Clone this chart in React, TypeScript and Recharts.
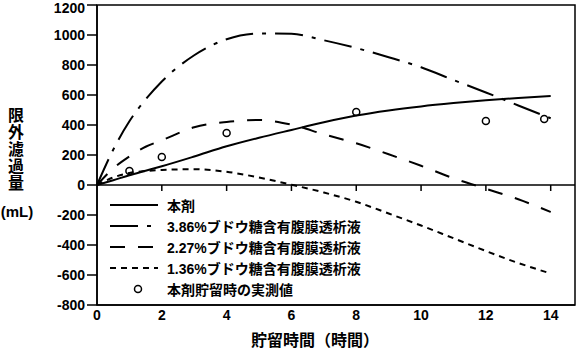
import React from "react";
import {
  ComposedChart,
  Line,
  Scatter,
  XAxis,
  YAxis,
  ReferenceLine,
  ReferenceArea,
  Legend
} from "recharts";

const FONT = "'Liberation Sans', Arial, 'Noto Sans CJK JP', sans-serif";

// dwell time (hours) for the simulated curves
const hours = [0, 0.5, 1, 1.5, 2, 3, 4, 5, 6, 7, 8, 9, 10, 11, 12, 13, 14];
const productValues = [0, 32, 65, 95, 125, 190, 258, 315, 367, 418, 463, 497, 524, 546, 565, 580, 593];
const glucose386 = [0, 235, 425, 570, 690, 865, 972, 1010, 1008, 965, 913, 852, 785, 700, 617, 530, 445];
const glucose227 = [0, 110, 190, 255, 298, 385, 420, 433, 402, 338, 278, 205, 128, 45, -25, -95, -180];
const glucose136 = [0, 50, 80, 93, 100, 105, 88, 50, 2, -50, -112, -190, -270, -355, -440, -520, -590];

const measuredHours = [1, 2, 4, 8, 12, 13.8];
const measuredValues = [93, 187, 347, 487, 427, 440];

const xTicks = [0, 2, 4, 6, 8, 10, 12, 14];
const yTicks = [-800, -600, -400, -200, 0, 200, 400, 600, 800, 1000, 1200];

const series = [
  { key: "product", name: "本剤", dash: undefined },
  { key: "g386", name: "3.86%ブドウ糖含有腹膜透析液", dash: "28 9 4 9" },
  { key: "g227", name: "2.27%ブドウ糖含有腹膜透析液", dash: "15 13" },
  { key: "g136", name: "1.36%ブドウ糖含有腹膜透析液", dash: "6 5" }
];
const measuredName = "本剤貯留時の実測値";
const yLabelChars = ["限", "外", "濾", "過", "量"];

const lineData = hours.map((t, i) => ({
  t,
  product: productValues[i],
  g386: glucose386[i],
  g227: glucose227[i],
  g136: glucose136[i]
}));

const scatterData = measuredHours.map((t, i) => ({ t, v: measuredValues[i] }));

const tickStyle = { fill: "#000", fontSize: 14, fontWeight: "bold", fontFamily: FONT };

function LegendBox() {
  return (
    <div style={{ fontFamily: FONT, fontSize: 14, fontWeight: "bold", color: "#000" }}>
      {series.map((s) => (
        <div key={s.key} style={{ display: "flex", alignItems: "center", height: 21 }}>
          <svg width={70} height={12}>
            <line x1={13} x2={61} y1={6} y2={6} stroke="#000" strokeWidth={2} strokeDasharray={s.dash} />
          </svg>
          <span>{s.name}</span>
        </div>
      ))}
      <div style={{ display: "flex", alignItems: "center", height: 21 }}>
        <svg width={70} height={12}>
          <circle cx={41} cy={6} r={3.5} stroke="#000" strokeWidth={1.5} fill="none" />
        </svg>
        <span>{measuredName}</span>
      </div>
    </div>
  );
}

function YTitle() {
  return (
    <g fontFamily={FONT} fontWeight="bold" fill="#000">
      {yLabelChars.map((c, i) => (
        <text key={c} x={16} y={115 + i * 17} fontSize={16} textAnchor="middle" dominantBaseline="central">
          {c}
        </text>
      ))}
      <text x={17} y={211} fontSize={15} textAnchor="middle" dominantBaseline="central">
        (mL)
      </text>
    </g>
  );
}

function XTitle() {
  return (
    <text
      x={315}
      y={340}
      fontFamily={FONT}
      fontWeight="bold"
      fontSize={16}
      fill="#000"
      textAnchor="middle"
      dominantBaseline="central"
    >
      貯留時間（時間）
    </text>
  );
}

export default function App() {
  return (
    <div style={{ position: "absolute", left: 0, top: 0, background: "#fff" }}>
      <ComposedChart
        width={576}
        height={359}
        data={lineData}
        margin={{ top: 5, right: 1, bottom: 0, left: 0 }}
      >
        <XAxis
          dataKey="t"
          type="number"
          domain={[0, 14.75]}
          ticks={xTicks}
          height={54}
          tickLine={false}
          tickSize={0}
          tickMargin={5}
          tick={tickStyle}
          axisLine={{ stroke: "#000", strokeWidth: 1.5 }}
          label={{ content: () => <XTitle /> }}
        />
        <YAxis
          type="number"
          domain={[-800, 1200]}
          ticks={yTicks}
          width={97}
          tickSize={10}
          tickMargin={2}
          tick={tickStyle}
          tickLine={{ stroke: "#000", strokeWidth: 1.5 }}
          axisLine={{ stroke: "#000", strokeWidth: 1.5 }}
          label={{ content: () => <YTitle /> }}
        />
        <ReferenceArea x1={0} x2={14.75} y1={-800} y2={1200} fill="none" stroke="#000" strokeWidth={1.5} />
        <ReferenceLine y={0} stroke="#000" strokeWidth={1.5} />
        {xTicks.slice(1).map((t) => (
          <ReferenceLine
            key={t}
            segment={[{ x: t, y: 0 }, { x: t, y: -40 }]}
            stroke="#000"
            strokeWidth={1.5}
          />
        ))}
        {series.map((s) => (
          <Line
            key={s.key}
            dataKey={s.key}
            name={s.name}
            type="monotone"
            stroke="#000"
            strokeWidth={2}
            strokeDasharray={s.dash}
            dot={false}
            activeDot={false}
            isAnimationActive={false}
          />
        ))}
        <Scatter
          data={scatterData}
          dataKey="v"
          name={measuredName}
          isAnimationActive={false}
          shape={(p: any) => <circle cx={p.cx} cy={p.cy} r={3.5} stroke="#000" strokeWidth={1.5} fill="none" />}
        />
        <Legend
          layout="horizontal"
          verticalAlign="middle"
          align="center"
          content={() => <LegendBox />}
          wrapperStyle={{ position: "absolute", left: 97, top: 194, width: 300 }}
        />
      </ComposedChart>
    </div>
  );
}
